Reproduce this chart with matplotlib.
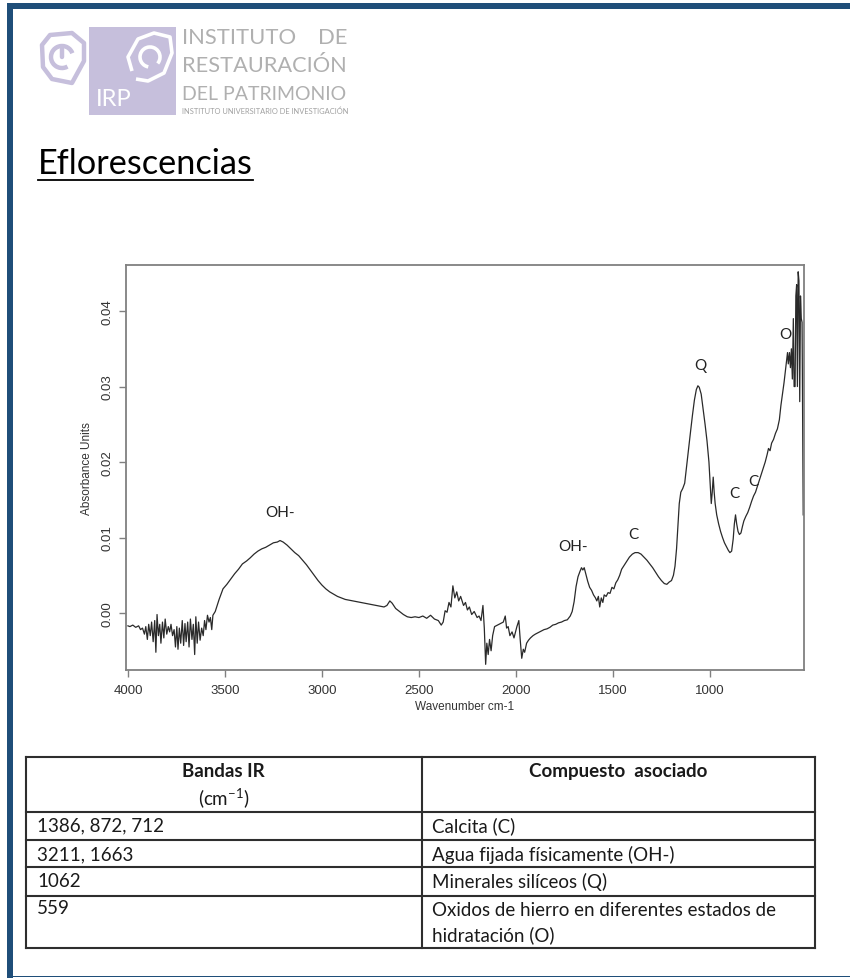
import matplotlib
matplotlib.use('Agg')
import matplotlib.pyplot as plt
from matplotlib.patches import Rectangle, Polygon, Arc

# spectrum: (wavenumber cm-1, absorbance)
wavenumber = [
    4000, 3990, 3975, 3960, 3945, 3935, 3925, 3915, 3908, 3900, 3893, 3885,
    3878, 3870, 3862, 3856, 3850, 3843, 3836, 3830, 3822, 3815, 3808, 3800,
    3792, 3785, 3778, 3770, 3762, 3755, 3748, 3742, 3735, 3728, 3720, 3713,
    3706, 3700, 3692, 3685, 3678, 3670, 3663, 3656, 3650, 3643, 3636, 3628,
    3620, 3612, 3605, 3598, 3590, 3582, 3575, 3568, 3562, 3550, 3530, 3510,
    3490, 3470, 3450, 3430, 3410, 3388, 3370, 3350, 3330, 3310, 3290, 3270,
    3250, 3230, 3216, 3200, 3180, 3160, 3140, 3120, 3100, 3080, 3060, 3040,
    3020, 3000, 2980, 2960, 2940, 2920, 2900, 2880, 2860, 2840, 2820, 2800,
    2780, 2760, 2740, 2720, 2700, 2680, 2665, 2650, 2638, 2620, 2600, 2580,
    2560, 2540, 2520, 2500, 2480, 2460, 2440, 2420, 2400, 2385, 2375, 2365,
    2355, 2345, 2335, 2325, 2315, 2305, 2295, 2285, 2270, 2260, 2250, 2240,
    2228, 2215, 2200, 2190, 2180, 2170, 2163, 2156, 2150, 2143, 2136, 2128,
    2120, 2110, 2095, 2080, 2065, 2055, 2048, 2040, 2031, 2020, 2010, 2003,
    1995, 1985, 1978, 1970, 1962, 1955, 1945, 1935, 1925, 1912, 1900, 1885,
    1870, 1855, 1840, 1825, 1810, 1795, 1780, 1765, 1750, 1735, 1720, 1710,
    1700, 1690, 1680, 1670, 1662, 1655, 1648, 1640, 1630, 1620, 1610, 1600,
    1590, 1583, 1575, 1568, 1560, 1552, 1545, 1535, 1525, 1515, 1505, 1495,
    1485, 1475, 1465, 1455, 1445, 1430, 1415, 1400, 1386, 1370, 1355, 1340,
    1325, 1310, 1295, 1280, 1265, 1250, 1235, 1222, 1210, 1198, 1188, 1180,
    1172, 1165, 1158, 1150, 1140, 1130, 1120, 1110, 1100, 1090, 1080, 1070,
    1062, 1055, 1045, 1035, 1025, 1015, 1005, 998, 993, 988, 983, 978,
    973, 965, 955, 945, 935, 925, 915, 905, 897, 888, 880, 874,
    868, 862, 855, 848, 840, 832, 825, 815, 805, 795, 785, 775,
    765, 755, 745, 735, 725, 715, 705, 698, 690, 682, 672, 662,
    652, 642, 634, 626, 618, 612, 606, 600, 596, 590, 585, 580,
    575, 570, 566, 561, 557, 553, 549, 545, 541, 537, 533, 529,
    525, 522, 519,
]
absorbance = [
    -0.0017, -0.0018, -0.0016, -0.0019, -0.0017, -0.0022, -0.0020, -0.0028, -0.0018, -0.0035, -0.0015, -0.0030,
    -0.0012, -0.0038, -0.0010, -0.0052, -0.0002, -0.0030, -0.0015, -0.0040, -0.0012, -0.0033, -0.0008, -0.0028,
    -0.0018, -0.0025, -0.0015, -0.0030, -0.0022, -0.0045, -0.0018, -0.0048, -0.0020, -0.0040, -0.0010, -0.0043,
    -0.0014, -0.0038, -0.0012, -0.0045, -0.0008, -0.0035, -0.0015, -0.0055, -0.0005, -0.0040, -0.0012, -0.0036,
    -0.0020, -0.0030, -0.0010, -0.0022, -0.0003, -0.0012, -0.0006, -0.0022, -0.0003, 0.0002, 0.0018, 0.0032,
    0.0038, 0.0045, 0.0052, 0.0058, 0.0065, 0.0069, 0.0073, 0.0078, 0.0082, 0.0085, 0.0087, 0.0090,
    0.0093, 0.0094, 0.0096, 0.0094, 0.0090, 0.0085, 0.0080, 0.0076, 0.0070, 0.0064, 0.0057, 0.0050,
    0.0043, 0.0037, 0.0032, 0.0028, 0.0025, 0.0022, 0.0020, 0.0018, 0.0017, 0.0016, 0.0015, 0.0014,
    0.0013, 0.0012, 0.0011, 0.0010, 0.0009, 0.0008, 0.0010, 0.0016, 0.0013, 0.0006, 0.0002, -0.0002,
    -0.0005, -0.0006, -0.0005, -0.0006, -0.0004, -0.0007, -0.0003, -0.0008, -0.0010, -0.0016, -0.0012, 0.0003,
    0.0001, 0.0014, 0.0008, 0.0036, 0.0020, 0.0028, 0.0016, 0.0022, 0.0010, 0.0014, 0.0004, 0.0008,
    -0.0002, 0.0002, -0.0006, -0.0004, -0.0010, 0.0010, -0.0020, -0.0068, -0.0040, -0.0055, -0.0035, -0.0050,
    -0.0030, -0.0018, -0.0016, -0.0014, -0.0012, -0.0004, -0.0020, -0.0018, -0.0030, -0.0025, -0.0033, -0.0026,
    -0.0018, -0.0010, -0.0035, -0.0060, -0.0048, -0.0052, -0.0040, -0.0036, -0.0033, -0.0030, -0.0028, -0.0026,
    -0.0024, -0.0022, -0.0021, -0.0019, -0.0016, -0.0015, -0.0013, -0.0012, -0.0010, -0.0009, -0.0004, 0.0002,
    0.0015, 0.0035, 0.0048, 0.0055, 0.0060, 0.0057, 0.0060, 0.0052, 0.0042, 0.0034, 0.0030, 0.0024,
    0.0020, 0.0016, 0.0022, 0.0008, 0.0020, 0.0014, 0.0024, 0.0022, 0.0027, 0.0026, 0.0034, 0.0032,
    0.0040, 0.0044, 0.0050, 0.0058, 0.0062, 0.0068, 0.0074, 0.0078, 0.0080, 0.0080, 0.0078, 0.0074,
    0.0070, 0.0065, 0.0060, 0.0054, 0.0048, 0.0043, 0.0039, 0.0038, 0.0041, 0.0043, 0.0050, 0.0062,
    0.0085, 0.0115, 0.0145, 0.0160, 0.0165, 0.0172, 0.0195, 0.0218, 0.0240, 0.0262, 0.0282, 0.0296,
    0.0301, 0.0299, 0.0290, 0.0270, 0.0250, 0.0228, 0.0200, 0.0168, 0.0145, 0.0160, 0.0180, 0.0160,
    0.0145, 0.0130, 0.0118, 0.0108, 0.0100, 0.0093, 0.0088, 0.0083, 0.0080, 0.0082, 0.0098, 0.0118,
    0.0130, 0.0118, 0.0108, 0.0104, 0.0106, 0.0115, 0.0122, 0.0128, 0.0133, 0.0140, 0.0148, 0.0155,
    0.0160, 0.0168, 0.0176, 0.0184, 0.0192, 0.0200, 0.0210, 0.0218, 0.0215, 0.0225, 0.0230, 0.0238,
    0.0244, 0.0256, 0.0275, 0.0290, 0.0305, 0.0318, 0.0330, 0.0345, 0.0330, 0.0345, 0.0325, 0.0350,
    0.0310, 0.0390, 0.0300, 0.0300, 0.0420, 0.0435, 0.0300, 0.0452, 0.0440, 0.0280, 0.0420, 0.0390,
    0.0385, 0.0250, 0.0130,
]

# band labels on the spectrum
peak_labels = ['OH-', 'OH-', 'C', 'Q', 'C', 'C', 'O']
peak_x = [3216, 1705, 1392, 1051, 876, 778, 613]
peak_y = [0.0134, 0.0089, 0.0105, 0.0328, 0.0159, 0.0175, 0.0370]

# table
table_header = ['Bandas IR', 'Compuesto  asociado']
bands = ['1386, 872, 712', '3211, 1663', '1062', '559']
compounds = ['Calcita (C)', 'Agua fijada físicamente (OH-)', 'Minerales silíceos (Q)',
             'Oxidos de hierro en diferentes estados de\nhidratación (O)']

W, H = 850, 979
BLUE = '#1f4e79'
LOGO = '#c6bfdc'
TXT_FONT = ['Lato', 'DejaVu Sans']
PLOT_FONT = ['Liberation Sans', 'DejaVu Sans']

fig = plt.figure(figsize=(W / 100., H / 100.), dpi=100)
renderer = fig.canvas.get_renderer()

# page layer in pixel coordinates (y down)
page = fig.add_axes([0, 0, 1, 1])
page.set_xlim(0, W)
page.set_ylim(H, 0)
page.axis('off')


def fit_width(txt, width_px):
    bb = txt.get_window_extent(renderer=renderer)
    txt.set_fontsize(txt.get_fontsize() * width_px / bb.width)
    return txt.get_fontsize()


# slide frame
page.add_patch(Rectangle((7, 4), 6, 975, color=BLUE, lw=0))
page.add_patch(Rectangle((7, 4), W, 6, color=BLUE, lw=0))
page.add_patch(Rectangle((13, 976.5), W, 1.8, color=BLUE, lw=0))

# logo
page.add_patch(Polygon([(50, 36), (72, 34), (84, 44), (84, 62), (72, 84), (52, 80), (43, 68), (42, 46)],
                       closed=True, fill=False, ec=LOGO, lw=3.2, joinstyle='round'))
page.add_patch(Arc((62, 58), 22, 22, theta1=60, theta2=340, ec=LOGO, lw=3.2))
page.plot([62, 62], [58, 50], color=LOGO, lw=3.2, solid_capstyle='round')
page.add_patch(Rectangle((89, 28), 87, 88, color=LOGO, lw=0))
page.add_patch(Polygon([(132, 72), (128, 58), (138, 40), (154, 34), (170, 38), (172, 54), (164, 74), (148, 82), (136, 80)],
                       closed=False, fill=False, ec='white', lw=2.6, joinstyle='round'))
page.add_patch(Arc((150, 58), 20, 20, theta1=100, theta2=400, ec='white', lw=2.6))
t = page.text(96, 100, 'IRP', color='white', fontsize=14, family=TXT_FONT, va='center')
fit_width(t, 36)

GRAY = '#b0b0b0'
t = page.text(182, 38, 'INSTITUTO', color=GRAY, fontsize=16, family=TXT_FONT, va='center')
fit_width(t, 114)
page.text(347, 38, 'DE', color=GRAY, fontsize=t.get_fontsize(), family=TXT_FONT,
          va='center', ha='right')
t = page.text(182, 66, 'RESTAURACIÓN', color=GRAY, fontsize=16, family=TXT_FONT, va='center')
fit_width(t, 165)
t = page.text(182, 95, 'DEL PATRIMONIO', color=GRAY, fontsize=16, family=TXT_FONT, va='center')
fit_width(t, 165)
t = page.text(182, 111.5, 'INSTITUTO UNIVERSITARIO DE INVESTIGACIÓN', color='#a0a0a0', fontsize=4,
              family=TXT_FONT, va='center')
fit_width(t, 165)

# title
t = page.text(38, 174, 'Eflorescencias', color='black', fontsize=24, family=TXT_FONT, va='baseline')
fit_width(t, 215)
page.plot([38, 253], [180.5, 180.5], color='black', lw=1.3)

# table
LINE = '#2e2e2e'
tx0, tx1, tmid = 26, 815, 421.7
rows_y = [758, 812.5, 840.5, 868.3, 896.7, 949.3]
for y in rows_y:
    page.plot([tx0, tx1], [y, y], color=LINE, lw=1.5, solid_capstyle='projecting')
for x in [tx0, tmid, tx1]:
    page.plot([x, x], [rows_y[0], rows_y[-1]], color=LINE, lw=1.5, solid_capstyle='projecting')

TCOL = '#1a1a1a'
t = page.text(37, 826, bands[0], color=TCOL, fontsize=12, family=TXT_FONT, va='center')
tfs = fit_width(t, 126)
page.text((tx0 + tmid) / 2, 772, table_header[0], color=TCOL, fontsize=tfs, family=TXT_FONT,
          weight='bold', ha='center', va='center')
page.text((tx0 + tmid) / 2, 799, r'(cm$^{\mathregular{-1}}$)', color=TCOL, fontsize=tfs, family=TXT_FONT,
          ha='center', va='center')
page.text((tmid + tx1) / 2, 772, table_header[1], color=TCOL, fontsize=tfs, family=TXT_FONT,
          weight='bold', ha='center', va='center')
row_centers = [826, 855, 882, 923]
for i, (b, c) in enumerate(zip(bands, compounds)):
    if i > 0:
        page.text(37, row_centers[i] if i < 3 else 909, b, color=TCOL, fontsize=tfs,
                  family=TXT_FONT, va='center')
    page.text(432, row_centers[i], c, color=TCOL, fontsize=tfs, family=TXT_FONT,
              va='center', linespacing=1.5)

# spectrum
ax = fig.add_axes([126 / W, 1 - 671 / H, 678 / W, 405 / H])
ax.plot(wavenumber, absorbance, color='#2a2a2a', lw=0.9)
ax.set_xlim(4010, 515)
ax.set_ylim(-0.00755, 0.0461)
ax.set_xticks([4000, 3500, 3000, 2500, 2000, 1500, 1000])
ax.set_yticks([0.0, 0.01, 0.02, 0.03, 0.04])
ax.set_yticklabels(['0.00', '0.01', '0.02', '0.03', '0.04'], rotation=90, va='center')
for s in ax.spines.values():
    s.set_color('#808080')
    s.set_linewidth(1.3)
ax.tick_params(colors='#808080', labelcolor='#333333', length=5, width=1, labelsize=9.5)
ax.tick_params(axis='x', pad=5)
ax.tick_params(axis='y', pad=4)
for lab in ax.get_xticklabels() + ax.get_yticklabels():
    lab.set_family(PLOT_FONT)
ax.set_xlabel('Wavenumber cm-1', family=PLOT_FONT, fontsize=8.5, color='#333333', labelpad=3)
ax.set_ylabel('Absorbance Units', family=PLOT_FONT, fontsize=8.5, color='#333333', labelpad=6)
for lab, x, y in zip(peak_labels, peak_x, peak_y):
    ax.text(x, y, lab, family=TXT_FONT, fontsize=11, color='#222222', ha='center', va='center')

plt.savefig('out.png', dpi=100)
